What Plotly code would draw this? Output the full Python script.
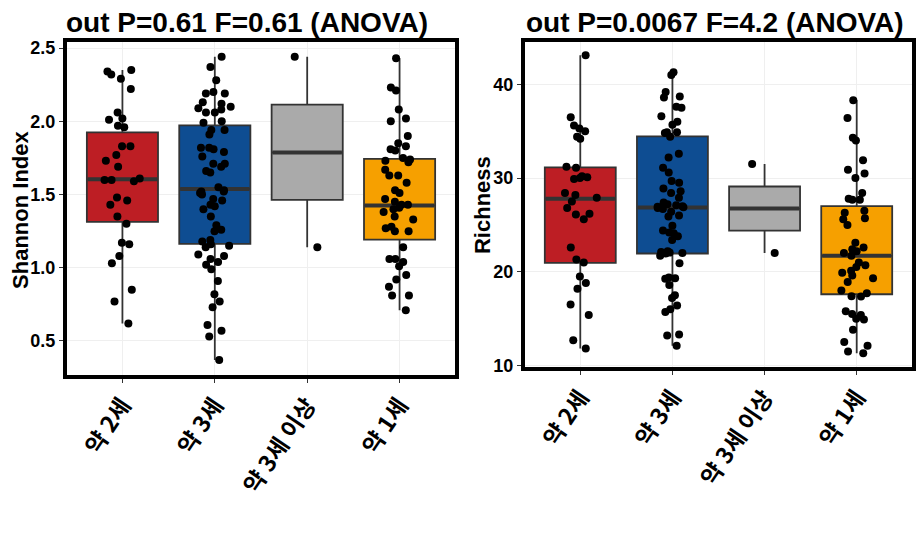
import plotly.graph_objects as go

# ---------------- data ----------------
categories = ["약 2세", "약 3세", "약 3세 이상", "약 1세"]
colors = ["#BD1E24", "#0E4D92", "#AAAAAA", "#F6A000"]

# Shannon index (left panel) - individual samples
shannon_2 = [2.35, 2.34, 2.32, 2.29, 2.22, 2.06, 2.02, 2.01, 1.97, 1.96, 1.83, 1.83, 1.77, 1.73,
             1.69, 1.61, 1.60, 1.60, 1.59, 1.48, 1.46, 1.43, 1.35, 1.30, 1.17, 1.16, 1.08, 1.03,
             0.85, 0.77, 0.62]
shannon_3 = [2.44, 2.37, 2.28, 2.19, 2.19, 2.20, 2.13, 2.12, 2.10, 2.09, 2.08, 2.06, 2.06, 2.00,
             1.99, 1.94, 1.94, 1.91, 1.82, 1.82, 1.81, 1.79, 1.76, 1.71, 1.69, 1.66, 1.71, 1.65,
             1.55, 1.53, 1.52, 1.52, 1.50, 1.47, 1.46, 1.51, 1.42, 1.40, 1.43, 1.35, 1.29, 1.26,
             1.25, 1.19, 1.18, 1.15, 1.14, 1.16, 1.08, 1.09, 1.06, 1.04, 1.02, 0.99, 0.91, 0.82,
             0.77, 0.73, 0.61, 0.57, 0.53, 0.37]
shannon_3p = [2.44, 1.14]
shannon_1 = [2.43, 2.23, 2.21, 2.08, 2.02, 2.00, 1.90, 1.85, 1.83, 1.80, 1.81, 1.75, 1.74, 1.72,
             1.73, 1.67, 1.63, 1.63, 1.58, 1.53, 1.51, 1.47, 1.45, 1.43, 1.41, 1.40, 1.38, 1.43,
             1.35, 1.33, 1.27, 1.28, 1.25, 1.25, 1.14, 1.06, 1.04, 1.01, 1.06, 0.95, 0.92, 0.87,
             0.81, 0.81, 0.71]

# Richness (right panel) - individual samples
rich_2 = [43.1, 36.5, 35.6, 35.3, 35.0, 34.4, 34.2, 31.2, 31.1, 30.2, 30.1, 30.0, 29.9, 28.4,
          28.2, 27.9, 27.5, 26.8, 26.2, 26.1, 25.6, 22.6, 21.3, 21.0, 19.5, 18.8, 18.2, 16.5,
          15.4, 12.7, 11.8]
rich_3 = [41.3, 41.0, 39.2, 38.6, 38.7, 37.6, 37.5, 36.6, 36.0, 35.7, 34.9, 34.9, 34.8, 34.4,
          32.6, 32.2, 31.1, 30.6, 29.7, 29.5, 28.9, 28.6, 28.4, 27.9, 27.4, 27.2, 27.1, 27.0,
          26.95, 26.9, 26.8, 26.7, 26.4, 26.0, 25.9, 24.9, 24.4, 24.1, 24.2, 23.8, 23.4, 22.0,
          22.05, 22.2, 22.1, 21.95, 21.7, 20.9, 19.3, 19.25, 19.4, 18.6, 17.5, 17.2, 16.4, 16.0,
          15.7, 13.3, 13.2, 12.1]
rich_3p = [31.5, 22.0]
rich_1 = [38.3, 36.4, 34.3, 34.0, 31.9, 30.9, 30.5, 30.0, 28.4, 27.8, 27.7, 27.7, 26.5, 26.3,
          25.7, 25.6, 25.0, 23.1, 22.6, 22.4, 22.2, 22.0, 21.7, 20.7, 20.5, 21.0, 20.1, 19.9,
          19.6, 19.3, 18.9, 18.0, 17.7, 17.4, 17.35, 15.8, 15.5, 15.4, 14.9, 15.0, 13.8, 12.5,
          12.1, 11.5, 11.3]

# box statistics (as drawn in the reference)
sh_q1 = [1.313, 1.163, 1.463, 1.192]
sh_med = [1.604, 1.538, 1.787, 1.425]
sh_q3 = [1.925, 1.972, 2.114, 1.744]
sh_lo = [0.62, 0.37, 1.14, 0.71]
sh_hi = [2.35, 2.44, 2.44, 2.43]

ri_q1 = [20.95, 21.95, 24.4, 17.6]
ri_med = [27.8, 26.85, 26.75, 21.7]
ri_q3 = [31.15, 34.45, 29.1, 27.0]
ri_lo = [11.8, 12.1, 22.0, 11.3]
ri_hi = [43.1, 41.3, 31.5, 38.3]

titles = ["out P=0.61 F=0.61 (ANOVA)", "out P=0.0067 F=4.2 (ANOVA)"]
ytitles = ["Shannon Index", "Richness"]
yticks = [[0.5, 1.0, 1.5, 2.0, 2.5], [10, 20, 30, 40]]
ytick_text = [["0.5", "1.0", "1.5", "2.0", "2.5"], ["10", "20", "30", "40"]]

# ---------------- figure ----------------
FONT = "Liberation Sans, Arial, Noto Sans CJK KR, sans-serif"
BW = 0.77
W, H, OFF = 916, 519, 8   # page body margin offsets the figure by 8px


def fx(px):
    return (px - OFF) / W


def fy(py):
    return 1 - (py - OFF) / H


fig = go.Figure()

panels = [
    dict(pts=[shannon_2, shannon_3, shannon_3p, shannon_1], q1=sh_q1, med=sh_med, q3=sh_q3,
         lo=sh_lo, hi=sh_hi, xa="x", ya="y"),
    dict(pts=[rich_2, rich_3, rich_3p, rich_1], q1=ri_q1, med=ri_med, q3=ri_q3,
         lo=ri_lo, hi=ri_hi, xa="x2", ya="y2"),
]

for p in panels:
    for i, cat in enumerate(categories):
        fig.add_trace(go.Box(
            x=[cat], q1=[p["q1"][i]], median=[p["med"][i]], q3=[p["q3"][i]],
            lowerfence=[p["lo"][i]], upperfence=[p["hi"][i]],
            fillcolor=colors[i], line=dict(color="#333333", width=1.8),
            whiskerwidth=0, width=BW, boxpoints=False, showlegend=False,
            xaxis=p["xa"], yaxis=p["ya"], hoverinfo="skip"))
        # thick median bar
        fig.add_trace(go.Box(
            x=[cat], q1=[p["med"][i]], median=[p["med"][i]], q3=[p["med"][i]],
            lowerfence=[p["med"][i]], upperfence=[p["med"][i]],
            fillcolor="rgba(0,0,0,0)", line=dict(color="#333333", width=4),
            whiskerwidth=0, width=BW - 0.02, boxpoints=False, showlegend=False,
            xaxis=p["xa"], yaxis=p["ya"], hoverinfo="skip"))
    for i, cat in enumerate(categories):
        vals = p["pts"][i]
        fig.add_trace(go.Box(
            x=[cat] * len(vals), y=vals, boxpoints="all", jitter=0.55, pointpos=0,
            fillcolor="rgba(0,0,0,0)", line=dict(color="rgba(0,0,0,0)", width=0),
            marker=dict(color="black", size=8), width=BW, showlegend=False,
            xaxis=p["xa"], yaxis=p["ya"]))

axis_common = dict(showline=True, linecolor="black", linewidth=4, mirror=True,
                   showgrid=True, gridcolor="#EFEFEF", gridwidth=1, zeroline=False,
                   ticks="outside", ticklen=4, tickcolor="#333333", tickwidth=1)

xdomains = [[fx(67), fx(455)], [fx(525), fx(912)]]
ydomains = [[fy(380), fy(39)], [fy(372), fy(39)]]
yranges = [[0.27, 2.54], [9.85, 44.5]]

layout = dict(width=W, height=H, margin=dict(l=0, r=0, t=0, b=0),
              paper_bgcolor="white", plot_bgcolor="white", boxmode="overlay",
              font=dict(family=FONT, color="black"))
for k in range(2):
    sfx = "" if k == 0 else "2"
    layout["xaxis" + sfx] = dict(axis_common, domain=xdomains[k], type="category",
                                 categoryorder="array", categoryarray=categories,
                                 range=[-0.6, 3.6], tickangle=-56,
                                 tickfont=dict(size=23, family="Noto Sans CJK KR", weight="bold",
                                               color="black"),
                                 anchor="y" + sfx)
    layout["yaxis" + sfx] = dict(axis_common, domain=ydomains[k], range=yranges[k],
                                 tickvals=yticks[k], ticktext=ytick_text[k],
                                 tickfont=dict(size=18, weight="bold", color="black"),
                                 anchor="x" + sfx)
fig.update_layout(**layout)

title_x = [fx(64), fx(524)]
for k in range(2):
    fig.add_annotation(text=titles[k], xref="paper", yref="paper",
                       x=title_x[k], y=fy(19), xanchor="left", yanchor="middle",
                       showarrow=False, font=dict(size=28, weight="bold", color="black"))

ytitle_pos = [(21, 211), (482, 206)]
for k in range(2):
    fig.add_annotation(text=ytitles[k], xref="paper", yref="paper",
                       x=fx(ytitle_pos[k][0]), y=fy(ytitle_pos[k][1]),
                       xanchor="center", yanchor="middle", textangle=-90,
                       showarrow=False, font=dict(size=22, weight="bold", color="black"))

fig.write_html("out.html")
